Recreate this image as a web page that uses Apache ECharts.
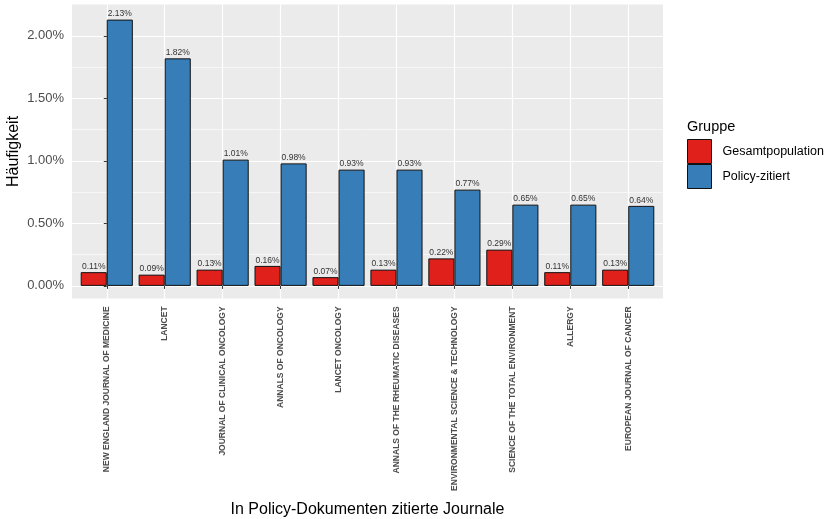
<!DOCTYPE html>
<html>
<head>
<meta charset="utf-8">
<script src="https://cdn.jsdelivr.net/npm/echarts@6/dist/echarts.min.js"></script>
<style>
html,body{margin:0;padding:0;background:#fff;}
#chart{width:829px;height:519px;}
</style>
</head>
<body>
<div id="chart"></div>
<script>
const categories = [
  'NEW ENGLAND JOURNAL OF MEDICINE',
  'LANCET',
  'JOURNAL OF CLINICAL ONCOLOGY',
  'ANNALS OF ONCOLOGY',
  'LANCET ONCOLOGY',
  'ANNALS OF THE RHEUMATIC DISEASES',
  'ENVIRONMENTAL SCIENCE & TECHNOLOGY',
  'SCIENCE OF THE TOTAL ENVIRONMENT',
  'ALLERGY',
  'EUROPEAN JOURNAL OF CANCER'
];
const gesamtpopulation = [0.11, 0.09, 0.13, 0.16, 0.07, 0.13, 0.22, 0.29, 0.11, 0.13];
const policyZitiert = [2.13, 1.82, 1.01, 0.98, 0.93, 0.93, 0.77, 0.65, 0.65, 0.64];
const yTickValues = [0, 0.5, 1, 1.5, 2];
const seriesNames = ['Gesamtpopulation', 'Policy-zitiert'];

const FONT = '"Liberation Sans", Arial, sans-serif';
const catIndex = categories.map((c, i) => i);

const chart = echarts.init(document.getElementById('chart'), null, {renderer: 'canvas'});

function barSeries(name, values, color) {
  return {
    name: name,
    type: 'bar',
    data: values.map((v, i) => [i, v]),
    barWidth: '45%',
    barGap: '0%',
    itemStyle: {color: color, borderColor: '#111', borderWidth: 1},
    label: {
      show: true,
      position: 'top',
      distance: 1,
      fontSize: 8.5,
      fontFamily: FONT,
      color: '#333',
      formatter: p => p.value[1].toFixed(2) + '%'
    }
  };
}

chart.setOption({
  animation: false,
  textStyle: {fontFamily: FONT},
  title: {
    text: 'Gruppe',
    left: 687,
    top: 119,
    padding: 0,
    textStyle: {fontSize: 14.5, fontWeight: 'normal', color: '#000', fontFamily: FONT}
  },
  legend: {
    data: seriesNames,
    orient: 'vertical',
    left: 687,
    top: 139,
    padding: 0,
    itemWidth: 24,
    itemHeight: 24,
    itemGap: 0,
    icon: 'rect',
    itemStyle: {borderColor: '#111', borderWidth: 1},
    textStyle: {fontSize: 12.5, color: '#000', fontFamily: FONT, padding: [0, 0, 0, 6]}
  },
  grid: {
    left: 72,
    right: 166,
    top: 4.6,
    bottom: 220.6,
    outerBoundsMode: 'none',
    containLabel: false,
    show: true,
    backgroundColor: '#EBEBEB',
    borderWidth: 0
  },
  xAxis: {
    type: 'value',
    min: -0.6,
    max: 9.6,
    name: 'In Policy-Dokumenten zitierte Journale',
    nameLocation: 'middle',
    nameGap: 203,
    nameMoveOverlap: false,
    nameTextStyle: {fontSize: 16, color: '#000', fontFamily: FONT},
    axisLine: {show: false},
    axisTick: {show: true, customValues: catIndex, length: 3, lineStyle: {color: '#333'}},
    axisLabel: {
      customValues: catIndex,
      rotate: 90,
      margin: 8,
      fontSize: 8.5,
      fontWeight: 'bold',
      color: '#4D4D4D',
      fontFamily: FONT,
      formatter: v => categories[Math.round(v)] || ''
    },
    splitLine: {show: true, lineStyle: {color: '#FFFFFF', width: 1.2}}
  },
  yAxis: {
    type: 'value',
    min: -0.1,
    max: 2.25,
    name: 'Häufigkeit',
    nameLocation: 'middle',
    nameRotate: 90,
    nameGap: 50,
    nameMoveOverlap: false,
    nameTextStyle: {fontSize: 16, color: '#000', fontFamily: FONT},
    axisLine: {show: false},
    axisTick: {show: true, customValues: yTickValues, length: 3, lineStyle: {color: '#333'}},
    axisLabel: {
      customValues: yTickValues,
      margin: 8,
      fontSize: 13,
      color: '#4D4D4D',
      fontFamily: FONT,
      formatter: v => v.toFixed(2) + '%'
    },
    splitLine: {show: true, lineStyle: {color: '#FFFFFF', width: 1.2}},
    minorTick: {show: false, splitNumber: 2},
    minorSplitLine: {show: true, lineStyle: {color: '#FFFFFF', width: 0.6}}
  },
  series: [
    barSeries(seriesNames[0], gesamtpopulation, '#E0201B'),
    barSeries(seriesNames[1], policyZitiert, '#377EB8')
  ]
});
</script>
</body>
</html>
